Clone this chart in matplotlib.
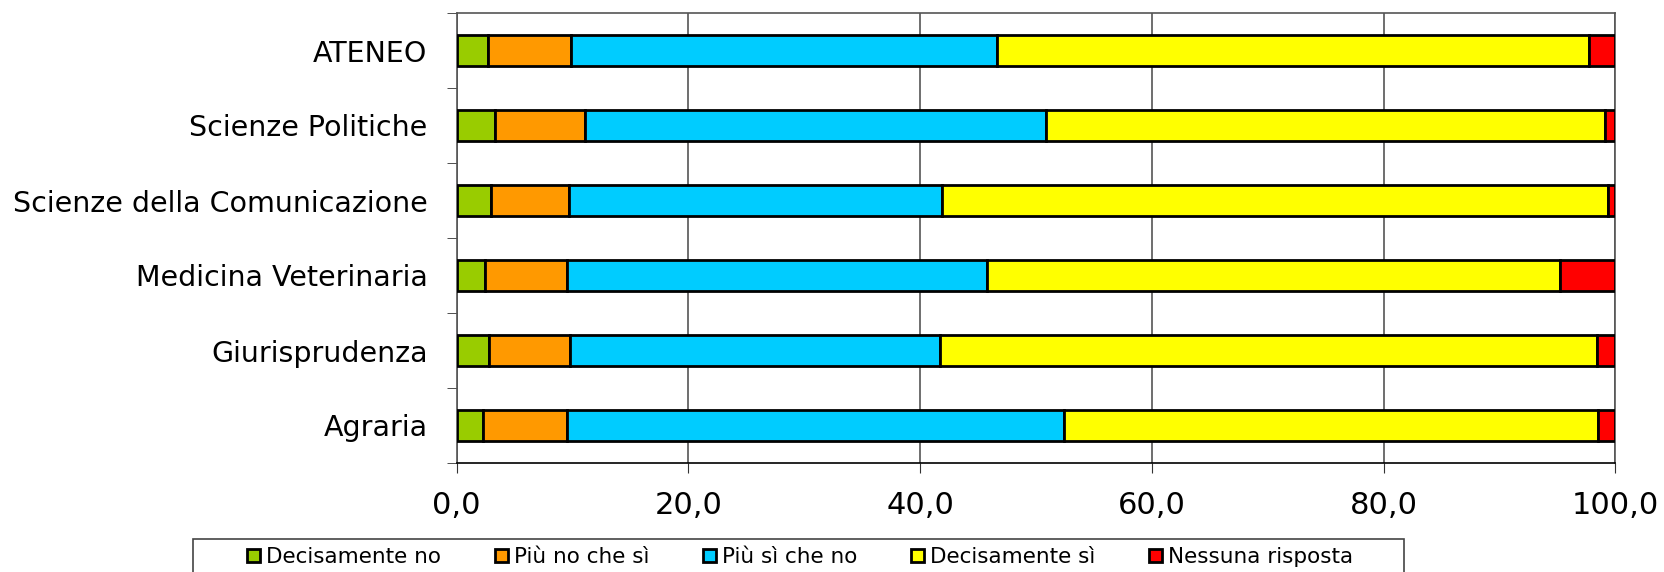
import matplotlib
matplotlib.use('Agg')
from matplotlib import pyplot as plt
from matplotlib.patches import Rectangle
import numpy as np

facolta = ['ATENEO', 'Scienze Politiche', 'Scienze della Comunicazione',
           'Medicina Veterinaria', 'Giurisprudenza', 'Agraria']
risposte = ['Decisamente no', 'Più no che sì', 'Più sì che no',
            'Decisamente sì', 'Nessuna risposta']

dec_no = [2.7, 3.3, 3.0, 2.4, 2.8, 2.3]
piu_no = [7.2, 7.8, 6.7, 7.1, 7.0, 7.2]
piu_si = [36.7, 39.8, 32.2, 36.3, 31.9, 42.9]
dec_si = [51.1, 48.2, 57.5, 49.4, 56.7, 46.1]
nessuna = [2.3, 0.9, 0.6, 4.8, 1.6, 1.5]

colori = ['#99CC00', '#FF9900', '#00CCFF', '#FFFF00', '#FF0000']

plt.rcParams['font.family'] = ['DejaVu Sans']

W, H = 1665.0, 572.0
fig = plt.figure(figsize=(W / 100, H / 100), dpi=100)
ax = fig.add_axes([456.7 / W, 1 - 463 / H, (1615.3 - 456.7) / W, (463 - 13) / H])

y = np.arange(len(facolta))
left = np.zeros(len(facolta))
for serie, col, nome in zip([dec_no, piu_no, piu_si, dec_si, nessuna], colori, risposte):
    ax.barh(y, serie, left=left, height=0.41, color=col, edgecolor='black',
            linewidth=2, label=nome, zorder=3)
    left = left + np.array(serie)

ax.set_xlim(0, 100)
ax.set_ylim(len(facolta) - 0.5, -0.5)
ax.set_yticks(y)
ax.set_yticklabels(facolta, fontsize=20.5)
ax.set_yticks(np.arange(-0.5, len(facolta)), minor=True)
ax.tick_params(axis='y', which='major', length=0, pad=21)
ax.tick_params(axis='y', which='minor', length=7, color='#333333', direction='out')

xt = np.arange(0, 101, 20)
ax.set_xticks(xt)
ax.set_xticklabels([('%.1f' % v).replace('.', ',') for v in xt], fontsize=22)
ax.tick_params(axis='x', length=7, color='#333333', pad=13)

ax.xaxis.grid(True, color='#555555', linewidth=1.2, zorder=0)
ax.set_axisbelow(True)
for s in ['top', 'right', 'left']:
    ax.spines[s].set_color('#555555')
ax.spines['bottom'].set_color('black')
for s in ax.spines.values():
    s.set_linewidth(1.2)

# legend box, its lower edge falls outside the image as in the original
box = Rectangle((193.3 / W, -0.1), (1404.3 - 193.3) / W, 1.1 - 539.3 / H,
                transform=fig.transFigure, fill=False, edgecolor='#444444',
                linewidth=1.2, clip_on=False)
fig.patches.append(box)

leg = fig.legend(loc='upper center', bbox_to_anchor=(800 / W, 1 - 547 / H),
                 ncol=5, fontsize=15.5, frameon=False,
                 handlelength=0.6, handleheight=0.6, handletextpad=0.28,
                 columnspacing=2.5, borderaxespad=0, borderpad=0)

fig.savefig('out.png', dpi=100)
